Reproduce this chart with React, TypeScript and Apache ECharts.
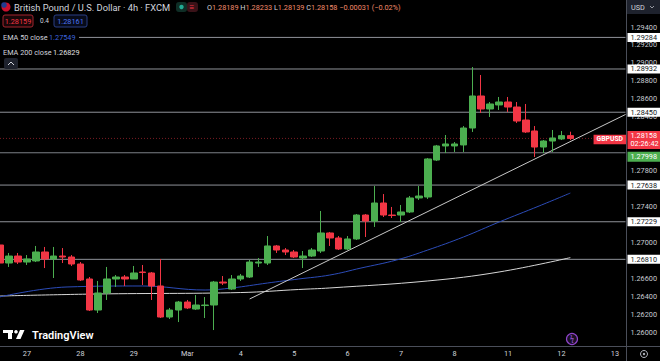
import React, { useEffect, useRef } from "react";
import * as echarts from "echarts";

// 4h candle slots: 0 = 27 Feb 00:00, each step = 4 hours (6 per trading day)
const candleSlot = [
  -3, -2, -1, 0, 1, 2, 3, 4, 5, 6,
  7, 8, 9, 10, 11, 12, 13, 14, 15, 16,
  17, 18, 19, 20, 21, 22, 23, 24, 25, 26,
  27, 28, 29, 30, 31, 32, 33, 34, 35, 36,
  37, 38, 39, 40, 41, 42, 43, 44, 45, 46,
  47, 48, 49, 50, 51, 52, 53, 54, 55, 56,
  57, 58, 59, 60, 61,
];
const opens = [
  1.2697, 1.26769, 1.26847, 1.2678, 1.26792, 1.26892, 1.26814, 1.26847, 1.26836, 1.26758,
  1.26591, 1.26245, 1.26435, 1.26591, 1.26613, 1.26591, 1.26669, 1.26658, 1.26513, 1.26167,
  1.26245, 1.26334, 1.26256, 1.26295, 1.26301, 1.26557, 1.26479, 1.26591, 1.26613, 1.26769,
  1.26769, 1.26959, 1.26914, 1.26892, 1.26825, 1.26847, 1.26903, 1.27104, 1.27048, 1.26925,
  1.27037, 1.27304, 1.27237, 1.27438, 1.27304, 1.27304, 1.27338, 1.27494, 1.27505, 1.27917,
  1.28074, 1.28074, 1.28085, 1.28274, 1.28631, 1.28486, 1.28531, 1.28564, 1.28508, 1.28363,
  1.28241, 1.28062, 1.28129, 1.28152, 1.28189,
];
const closes = [
  1.26769, 1.26847, 1.2678, 1.26814, 1.26892, 1.26814, 1.26847, 1.26836, 1.26758, 1.2658,
  1.26245, 1.26435, 1.26591, 1.26613, 1.26591, 1.26658, 1.26663, 1.26513, 1.26167, 1.26245,
  1.26334, 1.26268, 1.26301, 1.26301, 1.26557, 1.26546, 1.26591, 1.26624, 1.2678, 1.2678,
  1.26959, 1.26914, 1.26892, 1.26836, 1.26847, 1.26914, 1.27104, 1.27048, 1.26925, 1.27037,
  1.27304, 1.27237, 1.27438, 1.27304, 1.27299, 1.27338, 1.27494, 1.27516, 1.27929, 1.28074,
  1.28096, 1.28096, 1.28274, 1.28631, 1.28486, 1.28542, 1.28564, 1.28508, 1.28352, 1.2823,
  1.28062, 1.28129, 1.28163, 1.28189, 1.28158,
];
const lows = [
  1.26736, 1.26725, 1.26758, 1.26747, 1.2678, 1.26713, 1.26602, 1.26769, 1.26736, 1.26569,
  1.26234, 1.26212, 1.26357, 1.26502, 1.26513, 1.26591, 1.26524, 1.26357, 1.26156, 1.26145,
  1.26111, 1.26256, 1.26245, 1.26156, 1.26022, 1.26524, 1.26468, 1.26569, 1.26602, 1.26725,
  1.26747, 1.26881, 1.26858, 1.26825, 1.26713, 1.26836, 1.26881, 1.26959, 1.26914, 1.26914,
  1.27026, 1.27059, 1.27171, 1.27282, 1.27271, 1.27226, 1.27327, 1.27472, 1.27483, 1.27906,
  1.27995, 1.28007, 1.28007, 1.2823, 1.28441, 1.28397, 1.28475, 1.28453, 1.2833, 1.28219,
  1.27951, 1.27995, 1.28007, 1.2814, 1.28139,
];
const highs = [
  1.27026, 1.26881, 1.26881, 1.26858, 1.26959, 1.26948, 1.26948, 1.26936, 1.26858, 1.2678,
  1.26613, 1.26569, 1.26725, 1.26635, 1.26635, 1.26736, 1.26747, 1.26669, 1.26814, 1.26268,
  1.26346, 1.26357, 1.26412, 1.2639, 1.26569, 1.26624, 1.26635, 1.26647, 1.26803, 1.26825,
  1.2707, 1.2697, 1.26936, 1.26914, 1.26903, 1.26936, 1.27349, 1.27115, 1.2707, 1.2707,
  1.27315, 1.27315, 1.27628, 1.27538, 1.27394, 1.27416, 1.27516, 1.27628, 1.2794, 1.28085,
  1.28196, 1.28118, 1.28296, 1.28954, 1.28865, 1.28564, 1.2862, 1.2862, 1.28564, 1.28542,
  1.28296, 1.2814, 1.28252, 1.28241, 1.28233,
];

// EMA lines at sample slots
const ema50Slots = [-3.1, 4.5, 13, 20, 23, 27, 30.5, 34, 37.5, 41.5, 45, 49, 53, 57.5, 61];
const ema50Vals = [1.2639, 1.26502, 1.26513, 1.26468, 1.26491, 1.26546, 1.26591, 1.26635, 1.26713, 1.26803, 1.26914, 1.27059, 1.27226, 1.27405, 1.27549];
const ema200Slots = [-3.1, 8, 24, 30.5, 34, 45, 53, 61];
const ema200Vals = [1.26401, 1.26424, 1.2644, 1.26474, 1.26491, 1.26569, 1.26669, 1.26829];

// trend line anchors (slot, price)
const trendSlots = [25, 67.2];
const trendVals = [1.26368, 1.28425];

// horizontal levels
const levelPrices = [1.29284, 1.28932, 1.2845, 1.27638, 1.27229, 1.2681];
const greenLevel = 1.27998;
const lastPrice = 1.28158;
const countdown = "02:26:42";

const dayTicks = [0, 6, 12, 18, 24, 30, 36, 42, 48, 54, 60, 66];
const dayLabels = ["27", "28", "29", "Mar", "4", "5", "6", "7", "8", "11", "12", "13"];
// price scale labels that are not hidden behind the price tags
const priceTicks = [1.26, 1.262, 1.264, 1.266, 1.27, 1.274, 1.278, 1.282, 1.284, 1.286, 1.288, 1.29, 1.292, 1.294];

const X_MIN = -3.024;
const X_MAX = 67.19;
const GREEN = "#4caf50";
const RED = "#f23645";
const FONT = 'Roboto, "Noto Sans", sans-serif';
const FS = 7.3;

export default function App() {
  const ref = useRef<HTMLDivElement>(null);
  useEffect(() => {
    if (!ref.current) return;
    const chart = echarts.init(ref.current, undefined, { renderer: "svg" });
    const candles = candleSlot.map((s, i) => [s, opens[i], closes[i], lows[i], highs[i]]);
    const ema50 = ema50Slots.map((s, i) => [s, ema50Vals[i]]);
    const ema200 = ema200Slots.map((s, i) => [s, ema200Vals[i]]);
    const trend = trendSlots.map((s, i) => [s, trendVals[i]]);
    const labelMap: Record<string, string> = {};
    dayTicks.forEach((t, i) => (labelMap[String(t)] = dayLabels[i]));

    const hLine = (p: number, color: string, type: any = "solid", opacity = 1) => ({
      type: "line",
      data: [
        [X_MIN, p],
        [X_MAX, p],
      ],
      showSymbol: false,
      silent: true,
      z: 1,
      lineStyle: { color, width: 1, type, opacity },
    });

    chart.setOption({
      animation: false,
      backgroundColor: "#000000",
      grid: { left: 0, right: 33, top: 0, bottom: 15 },
      xAxis: {
        type: "value",
        min: X_MIN,
        max: X_MAX,
        axisLine: { show: false },
        axisTick: { show: false },
        splitLine: { show: false },
        axisLabel: {
          customValues: dayTicks,
          formatter: (v: number) => labelMap[String(Math.round(v))] ?? "",
          color: "#d1d4dc",
          fontSize: FS,
          fontFamily: FONT,
          margin: 4,
        },
      },
      yAxis: {
        type: "value",
        position: "right",
        min: 1.25844,
        max: 1.29701,
        axisLine: { show: false },
        axisTick: { show: false },
        splitLine: { show: false },
        axisLabel: {
          customValues: priceTicks,
          formatter: (v: number) => v.toFixed(5),
          color: "#c8cbd3",
          fontSize: FS,
          fontFamily: FONT,
          margin: 5,
        },
      },
      series: [
        ...levelPrices.map((p) => hLine(p, "#8f9299")),
        hLine(greenLevel, "#7d8088"),
        hLine(lastPrice, RED, [1, 2], 0.5),
        {
          type: "line",
          name: "EMA 200",
          data: ema200,
          smooth: 0.4,
          showSymbol: false,
          silent: true,
          z: 2,
          lineStyle: { color: "#d6d6d6", width: 1 },
        },
        {
          type: "line",
          name: "EMA 50",
          data: ema50,
          smooth: 0.4,
          showSymbol: false,
          silent: true,
          z: 2,
          lineStyle: { color: "#2c4cb8", width: 1 },
        },
        {
          type: "line",
          name: "trend",
          data: trend,
          showSymbol: false,
          silent: true,
          z: 2,
          lineStyle: { color: "#c8c8c8", width: 1 },
        },
        {
          type: "candlestick",
          name: "GBPUSD",
          data: candles,
          dimensions: ["slot", "open", "close", "lowest", "highest"],
          encode: { x: 0, y: [1, 2, 3, 4] },
          barWidth: 7,
          z: 5,
          itemStyle: {
            color: GREEN,
            color0: RED,
            borderColor: GREEN,
            borderColor0: RED,
            borderWidth: 1,
          },
        },
      ],
    });

    const py = (p: number) => chart.convertToPixel({ yAxisIndex: 0 } as any, p) as number;

    const txt = (x: number, y: number, text: string, fill: string, size = FS, extra: any = {}) => ({
      type: "text",
      x,
      y,
      z: 100,
      style: { text, fill, fontSize: size, fontFamily: FONT, verticalAlign: "middle", ...extra },
    });

    const priceTag = (p: number, text: string, bg: string, fg: string, dy = 0, extra: any = {}) => ({
      type: "text",
      z: 100,
      x: 627.5,
      y: py(p) + dy,
      style: {
        text,
        fill: fg,
        fontSize: FS,
        fontFamily: FONT,
        verticalAlign: "middle",
        backgroundColor: bg,
        padding: [1, 3, 0.5, 3],
        lineHeight: 7.5,
        ...extra,
      },
    });

    chart.setOption({
      graphic: [
        // frame separators
        { type: "line", z: 90, shape: { x1: 626.5, y1: 0, x2: 626.5, y2: 361 }, style: { stroke: "#4a4e59", lineWidth: 1 } },
        { type: "line", z: 90, shape: { x1: 0, y1: 346.5, x2: 660, y2: 346.5 }, style: { stroke: "#4a4e59", lineWidth: 1 } },
        // price tags
        ...levelPrices.map((p) => priceTag(p, p.toFixed(5), "#ffffff", "#131722")),
        priceTag(greenLevel, greenLevel.toFixed(5), GREEN, "#ffffff", 4, { padding: [1.5, 3, 1, 3] }),
        priceTag(lastPrice, lastPrice.toFixed(5) + "\n" + countdown, RED, "#ffffff", 1.5, { padding: [1, 3, 1, 3], lineHeight: 8 }),
        {
          type: "text",
          z: 100,
          x: 626,
          y: py(lastPrice) + 1,
          style: {
            text: "GBPUSD",
            fill: "#ffffff",
            fontSize: 6.8,
            fontWeight: "bold",
            fontFamily: FONT,
            align: "right",
            verticalAlign: "middle",
            backgroundColor: RED,
            padding: [1.5, 3, 1, 3],
          },
        },
        // legend background
        { type: "rect", z: 95, shape: { x: 0, y: 0, width: 445, height: 13 }, style: { fill: "#000" } },
        { type: "rect", z: 95, shape: { x: 0, y: 31, width: 79, height: 12 }, style: { fill: "#000" } },
        // flag
        { type: "circle", z: 100, shape: { cx: 6, cy: 7, r: 4.5 }, style: { fill: "#c8102e" } },
        { type: "circle", z: 101, shape: { cx: 4, cy: 5, r: 2.8 }, style: { fill: "#1f3c8f" } },
        txt(14, 7, "British Pound / U.S. Dollar · 4h · FXCM", "#d1d4dc", 9.3),
        { type: "rect", z: 100, shape: { x: 176, y: 2, width: 11, height: 10, r: 3 }, style: { fill: "#0f2e26" } },
        { type: "circle", z: 101, shape: { cx: 181.5, cy: 7, r: 2.2 }, style: { fill: "#22ab94" } },
        { type: "rect", z: 100, shape: { x: 187, y: 2, width: 11, height: 10, r: 3 }, style: { fill: "#3a1218" } },
        txt(189.5, 7, "≡", "#f23645", 8),
        {
          type: "text",
          x: 207,
          y: 7,
          z: 100,
          style: {
            text: "{l|O}{v|1.28189} {l|H}{v|1.28233} {l|L}{v|1.28139} {l|C}{v|1.28158} {v|−0.00031 (−0.02%)}",
            fontFamily: FONT,
            fontSize: FS,
            verticalAlign: "middle",
            rich: {
              l: { fill: "#d1d4dc", fontSize: FS, fontFamily: FONT },
              v: { fill: "#f38b6b", fontSize: FS, fontFamily: FONT },
            },
          },
        },
        // second row boxes
        { type: "rect", z: 100, shape: { x: 3, y: 15, width: 30, height: 12, r: 2 }, style: { fill: "#1a0709", stroke: "#a3252f", lineWidth: 1 } },
        txt(18, 21, "1.28159", "#f23645", FS, { align: "center" }),
        txt(40, 21, "0.4", "#d1d4dc", 6.5),
        { type: "rect", z: 100, shape: { x: 54, y: 15, width: 33, height: 12, r: 2 }, style: { fill: "#070b1a", stroke: "#2a3f85", lineWidth: 1 } },
        txt(70.5, 21, "1.28161", "#4c74f0", FS, { align: "center" }),
        // EMA legends
        txt(3, 37, "EMA 50 close", "#d1d4dc", FS),
        txt(49, 37, "1.27549", "#3d63dd", FS),
        txt(3, 52, "EMA 200 close", "#d1d4dc", FS),
        txt(53, 52, "1.26829", "#e0e0e0", FS),
        { type: "rect", z: 100, shape: { x: 4, y: 58, width: 14, height: 11, r: 2 }, style: { fill: "#1e222d" } },
        { type: "polyline", z: 101, shape: { points: [[8, 65], [11, 62], [14, 65]] }, style: { stroke: "#d1d4dc", lineWidth: 1, fill: "none" } },
        // USD box
        { type: "rect", z: 100, shape: { x: 627, y: 0, width: 33, height: 14 }, style: { fill: "#1e222d" } },
        txt(631, 7, "USD", "#d1d4dc", FS),
        { type: "polyline", z: 101, shape: { points: [[650, 6], [652, 8], [654, 6]] }, style: { stroke: "#9598a1", lineWidth: 1, fill: "none" } },
        // TradingView logo
        { type: "rect", z: 100, shape: { x: 3, y: 330, width: 10, height: 3 }, style: { fill: "#ffffff" } },
        { type: "rect", z: 100, shape: { x: 8, y: 330, width: 4, height: 9 }, style: { fill: "#ffffff" } },
        { type: "circle", z: 100, shape: { cx: 16, cy: 331.8, r: 1.8 }, style: { fill: "#ffffff" } },
        { type: "polygon", z: 100, shape: { points: [[20, 330], [24.5, 330], [20.5, 339], [16, 339]] }, style: { fill: "#ffffff" } },
        txt(32, 335, "TradingView", "#ffffff", 11, { fontWeight: 600 }),
        // purple lightning button
        { type: "circle", z: 100, shape: { cx: 572, cy: 339, r: 5.5 }, style: { fill: "#1a0f24", stroke: "#8e44c9", lineWidth: 1.2 } },
        txt(572, 339, "ϟ", "#a35ee0", 7, { align: "center" }),
        // settings gear
        { type: "circle", z: 100, shape: { cx: 644, cy: 354, r: 3.5 }, style: { fill: "none", stroke: "#b2b5be", lineWidth: 1 } },
        { type: "circle", z: 100, shape: { cx: 644, cy: 354, r: 1.2 }, style: { fill: "#b2b5be" } },
      ],
    });

    return () => chart.dispose();
  }, []);

  return (
    <div
      ref={ref}
      style={{ position: "fixed", left: 0, top: 0, width: 660, height: 361, background: "#000" }}
    />
  );
}
